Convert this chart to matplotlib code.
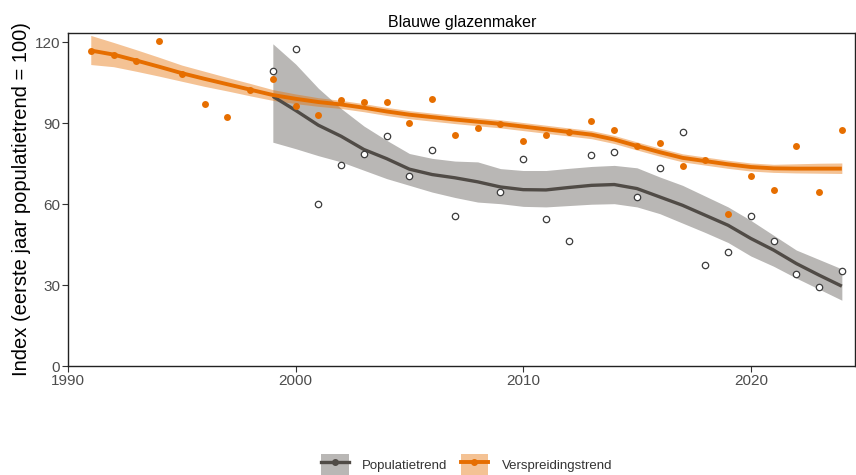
import numpy as np
import matplotlib
matplotlib.use("Agg")
import matplotlib.pyplot as plt
from matplotlib.lines import Line2D
from matplotlib.legend_handler import HandlerTuple

plt.rcParams['font.family'] = ['Liberation Sans', 'DejaVu Sans']

# ---------------- data ----------------
title = "Blauwe glazenmaker"
ylabel = "Index (eerste jaar populatietrend = 100)"
series_names = ["Populatietrend", "Verspreidingstrend"]

pop_years = list(range(1999, 2025))
pop_obs = [109.3, 117.4, 60.0, 74.7, 78.8, 85.4, 70.6, 80.2, 55.8, np.nan,
           64.4, 76.8, 54.4, 46.3, 78.1, 79.5, 62.5, 73.3, 86.8, 37.5,
           42.1, 55.7, 46.3, 34.1, 29.3, 35.4]
pop_trend = [100.0, 94.8, 89.3, 85.2, 80.3, 76.9, 73.0, 71.0, 69.8, 68.3,
             66.4, 65.4, 65.3, 66.2, 67.0, 67.3, 65.8, 62.7, 59.6, 55.9,
             52.2, 47.3, 43.0, 38.0, 33.7, 29.6]
pop_lower = [83.0, 80.6, 78.0, 75.7, 72.6, 69.5, 67.0, 64.5, 62.5, 60.8,
             60.2, 59.2, 59.0, 59.5, 60.0, 60.2, 59.0, 56.5, 53.0, 49.5,
             45.8, 40.8, 37.0, 32.6, 28.5, 24.4]
pop_upper = [119.5, 112.0, 103.0, 95.5, 89.0, 83.7, 78.8, 77.0, 76.0, 75.7,
             73.2, 72.5, 72.5, 73.3, 74.0, 74.4, 73.5, 70.1, 67.0, 63.0,
             59.0, 54.0, 48.5, 43.0, 39.5, 36.0]

ver_years = list(range(1991, 2025))
ver_obs = [116.7, 115.5, 113.3, 120.7, 108.4, 97.2, 92.3, 102.5, 106.5, 96.3,
           93.0, 98.5, 97.9, 97.9, 90.2, 99.1, 85.6, 88.4, 89.9, 83.5,
           85.6, 86.6, 90.9, 87.7, 81.6, 82.8, 74.1, 76.3, 56.4, 70.6,
           65.2, 81.5, 64.6, 87.7]
ver_trend = [117.0, 115.5, 113.3, 111.0, 108.6, 106.5, 104.5, 102.5, 100.5, 99.1,
             97.9, 97.0, 95.8, 94.4, 93.2, 92.3, 91.4, 90.6, 89.8, 88.8,
             87.8, 86.8, 85.8, 84.0, 81.6, 79.3, 77.2, 76.0, 74.8, 73.8,
             73.3, 73.2, 73.2, 73.2]
ver_lower = [111.8, 111.0, 109.3, 107.5, 105.6, 103.7, 102.0, 100.2, 98.5, 97.3,
             96.3, 95.5, 94.3, 92.9, 91.7, 90.8, 89.9, 89.1, 88.3, 87.3,
             86.3, 85.3, 84.3, 82.5, 80.1, 77.8, 75.7, 74.5, 73.3, 72.3,
             71.8, 71.6, 71.5, 71.4]
ver_upper = [122.6, 120.0, 117.3, 114.5, 111.6, 109.3, 107.0, 104.8, 102.5, 100.9,
             99.5, 98.5, 97.3, 95.9, 94.7, 93.8, 92.9, 92.1, 91.3, 90.3,
             89.3, 88.3, 87.3, 85.5, 83.1, 80.8, 78.7, 77.5, 76.3, 75.3,
             74.8, 75.0, 75.2, 75.3]

x_ticks = [1990, 2000, 2010, 2020]
y_ticks = [0, 30, 60, 90, 120]

# ---------------- style ----------------
grey = "#504B46"
orange = "#E66E00"

fig = plt.figure(figsize=(8.56, 4.75), dpi=100)
ax = fig.add_axes([68/856, 1 - 366/475, (855.5 - 68)/856, (366 - 33)/475])

b_pop = ax.fill_between(pop_years, pop_lower, pop_upper, color=grey, alpha=0.4,
                        linewidth=0, zorder=1)
b_ver = ax.fill_between(ver_years, ver_lower, ver_upper, color=orange, alpha=0.42,
                        linewidth=0, zorder=2)
ax.plot(pop_years, pop_trend, color=grey, lw=2.4, zorder=3, solid_capstyle='butt')
ax.plot(ver_years, ver_trend, color=orange, lw=2.8, zorder=4, solid_capstyle='butt')
ax.plot(pop_years, pop_obs, linestyle='none', marker='o', ms=4.6, mfc='white',
        mec='#3C3C3C', mew=0.9, zorder=5)
ax.plot(ver_years, ver_obs, linestyle='none', marker='o', ms=5.0, mfc=orange,
        mec=orange, mew=0, zorder=6)

ax.set_xlim(1990, 2024.6)
ax.set_ylim(0, 123.5)
ax.set_xticks(x_ticks)
ax.set_yticks(y_ticks)
ax.tick_params(axis='both', direction='out', length=4, width=0.8, color='#333333',
               labelcolor='#4D4D4D', labelsize=11, pad=1.5)
for s in ax.spines.values():
    s.set_linewidth(1.0)
    s.set_color('#222222')

ax.set_ylabel(ylabel, fontsize=14.5, color='black', labelpad=3)
ax.set_title(title, fontsize=11.5, pad=4, color='black')

h1 = (b_pop, Line2D([], [], color=grey, lw=2.4, marker='o', ms=4, mfc=grey, mec=grey))
h2 = (b_ver, Line2D([], [], color=orange, lw=2.8, marker='o', ms=4, mfc=orange, mec=orange))
fig.legend([h1, h2], series_names, loc='center', bbox_to_anchor=(0.545, 0.022),
           ncol=2, frameon=False, fontsize=9.5, handler_map={tuple: HandlerTuple(ndivide=1)},
           handlelength=2.1, handleheight=2.0, handletextpad=1.0, columnspacing=1.0,
           labelcolor='#333333')

fig.savefig("out.png", dpi=100)
